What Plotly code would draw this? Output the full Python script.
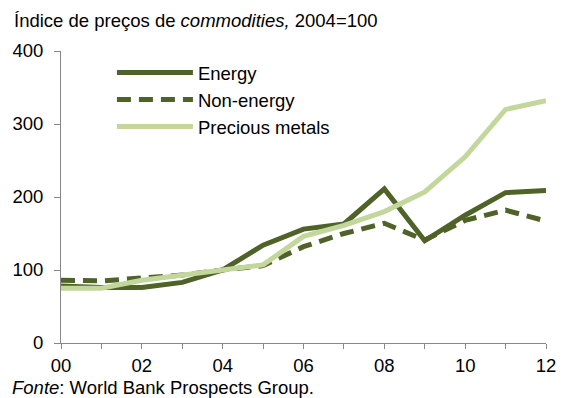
import plotly.graph_objects as go

years = list(range(2000, 2013))
energy = [78, 76, 76, 83, 100, 134, 156, 163, 211, 140, 175, 206, 209]
non_energy = [86, 85, 89, 93, 100, 106, 132, 150, 164, 141, 168, 182, 167]
precious_metals = [75, 75, 86, 93, 100, 107, 146, 161, 180, 207, 255, 320, 332]

x_tick_vals = list(range(2000, 2013, 2))
x_tick_text = ["00", "02", "04", "06", "08", "10", "12"]
y_tick_vals = [0, 100, 200, 300, 400]

dark = "#4F6228"
light = "#C3D69B"
font_family = "Liberation Sans, Arial, sans-serif"
fs = 18.5

fig = go.Figure()
fig.add_trace(go.Scatter(x=years, y=energy, name="Energy", mode="lines",
                         line=dict(color=dark, width=5)))
fig.add_trace(go.Scatter(x=years, y=non_energy, name="Non-energy", mode="lines",
                         line=dict(color=dark, width=5, dash="14px,8px")))
fig.add_trace(go.Scatter(x=years, y=precious_metals, name="Precious metals", mode="lines",
                         line=dict(color=light, width=5)))

fig.update_layout(
    width=568, height=398,
    margin=dict(l=61, r=12, t=51, b=55),
    paper_bgcolor="white", plot_bgcolor="white",
    font=dict(family=font_family, size=fs, color="#000000"),
    showlegend=True,
    legend=dict(x=0.105, y=0.99, xanchor="left", yanchor="top",
                bgcolor="rgba(0,0,0,0)", font=dict(size=fs),
                tracegroupgap=0, itemwidth=76),
    xaxis=dict(range=[2000, 2012], tickvals=x_tick_vals, ticktext=x_tick_text,
               ticks="outside", ticklen=5, tickcolor="#888888",
               ticklabelstandoff=1,
               showline=True, linecolor="#888888", linewidth=1,
               showgrid=False, zeroline=False,
               minor=dict(dtick=1, ticks="outside", ticklen=5, tickcolor="#888888"),
               fixedrange=True),
    yaxis=dict(range=[0, 400], tickvals=y_tick_vals,
               ticks="outside", ticklen=6, tickcolor="#888888",
               ticklabelstandoff=7,
               showline=True, linecolor="#888888", linewidth=1,
               showgrid=False, zeroline=False, fixedrange=True),
    annotations=[
        dict(text="Índice de preços de <i>commodities,</i> 2004=100",
             xref="paper", yref="paper", x=-0.1, y=1.0, xshift=-1, yshift=31,
             xanchor="left", yanchor="middle", showarrow=False,
             font=dict(size=fs)),
        dict(text="<i>Fonte</i>: World Bank Prospects Group.",
             xref="paper", yref="paper", x=-0.1, y=0, xshift=-3, yshift=-44,
             xanchor="left", yanchor="middle", showarrow=False,
             font=dict(size=fs)),
    ],
)

fig.write_html("out.html")
